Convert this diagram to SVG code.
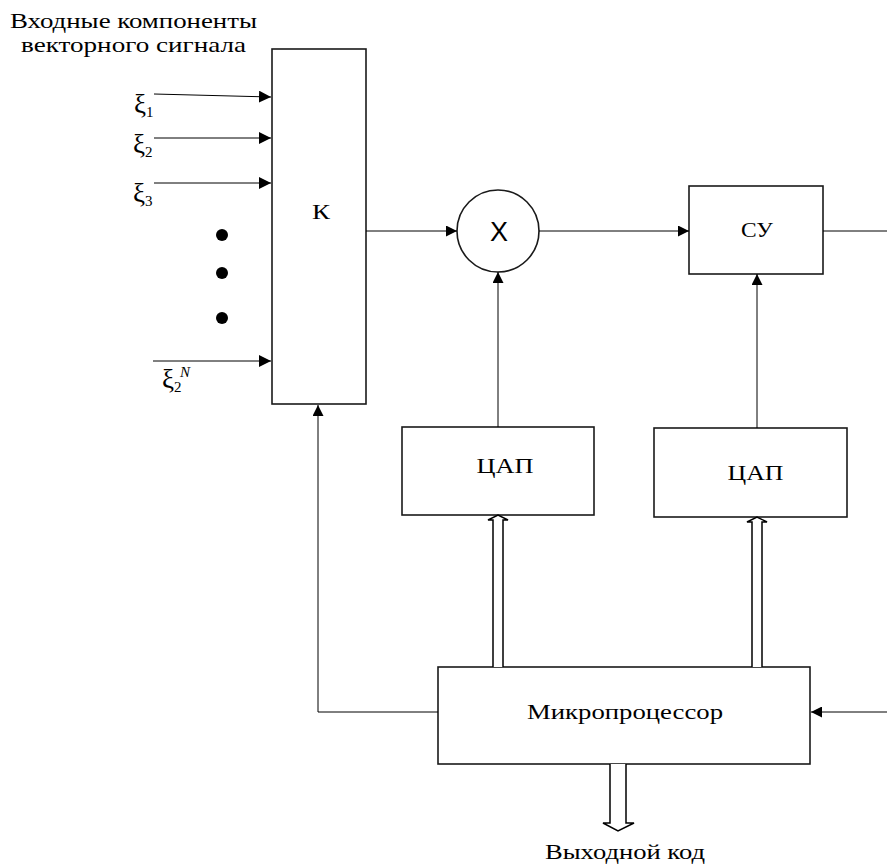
<svg xmlns="http://www.w3.org/2000/svg" width="887" height="864" viewBox="0 0 887 864">
<style>
.box{fill:#fff;stroke:#1a1a1a;stroke-width:1.6}
.ln{fill:none;stroke:#000;stroke-width:1}
.hollow{fill:#fff;stroke:#000;stroke-width:1.5;stroke-linejoin:miter}
.t{font-family:"Liberation Serif","Times New Roman",serif;font-size:21px;fill:#000}
.c{text-anchor:middle}
.g{font-family:"Liberation Serif","Times New Roman",serif;font-size:22px;fill:#000}
.x{font-family:"Liberation Serif","Times New Roman",serif;font-size:27px;fill:#000}
.sub{font-size:15px}
</style>
<defs>
<marker id="arr" markerUnits="userSpaceOnUse" markerWidth="12" markerHeight="12" viewBox="0 0 12 12" refX="12" refY="6" orient="auto">
<path d="M0,0 L12,6 L0,12 z" fill="#000"/>
</marker>
<marker id="arrS" markerUnits="userSpaceOnUse" markerWidth="11" markerHeight="11" viewBox="0 0 11 11" refX="11" refY="5.5" orient="auto">
<path d="M0,0 L11,5.5 L0,11 z" fill="#000"/>
</marker>
</defs>

<g id="title">
<text class="t c" x="133.5" y="28" textLength="247" lengthAdjust="spacingAndGlyphs">Входные компоненты</text>
<text class="t c" x="133.5" y="52" textLength="225" lengthAdjust="spacingAndGlyphs">векторного сигнала</text>
</g>

<g id="inputs-labels">
<text class="x" x="134" y="113">ξ<tspan class="sub" dy="4">1</tspan></text>
<text class="x" x="133" y="153">ξ<tspan class="sub" dy="4">2</tspan></text>
<text class="x" x="133" y="202">ξ<tspan class="sub" dy="4">3</tspan></text>
<text class="x" x="162" y="388">ξ<tspan class="sub" dy="4">2</tspan></text>
<text x="180" y="377" style="font-family:'Liberation Serif',serif;font-style:italic;font-size:15px">N</text>
</g>

<g id="dots">
<circle cx="222" cy="235" r="6" fill="#000"/>
<circle cx="222" cy="273" r="6" fill="#000"/>
<circle cx="222" cy="318" r="6" fill="#000"/>
</g>

<g id="K">
<rect class="box" x="272" y="49" width="94" height="355"/>
<text class="g c" x="321" y="219" textLength="18" lengthAdjust="spacingAndGlyphs">К</text>
</g>

<g id="mult">
<circle class="box" cx="498" cy="231" r="41"/>
<text x="499" y="241" text-anchor="middle" style="font-family:'Liberation Sans',Arial,sans-serif;font-size:27px">X</text>
</g>

<g id="SU">
<rect class="box" x="689" y="186" width="134" height="88"/>
<text class="g c" x="757" y="237" textLength="32" lengthAdjust="spacingAndGlyphs">СУ</text>
</g>

<g id="DAC1">
<rect class="box" x="402" y="427" width="192" height="88"/>
<text class="g c" x="505" y="473" textLength="57" lengthAdjust="spacingAndGlyphs">ЦАП</text>
</g>

<g id="DAC2">
<rect class="box" x="654" y="428" width="193" height="89"/>
<text class="g c" x="755.5" y="480" textLength="56" lengthAdjust="spacingAndGlyphs">ЦАП</text>
</g>

<g id="MP">
<rect class="box" x="438" y="667" width="372" height="97"/>
<text class="g c" x="625" y="719" textLength="196" lengthAdjust="spacingAndGlyphs">Микропроцессор</text>
</g>

<g id="output-label">
<text class="g c" x="625" y="859" textLength="160" lengthAdjust="spacingAndGlyphs">Выходной код</text>
</g>

<g id="connectors">
<line class="ln" x1="154" y1="94" x2="271" y2="97" marker-end="url(#arr)"/>
<line class="ln" x1="154" y1="138" x2="271" y2="138" marker-end="url(#arr)"/>
<line class="ln" x1="154" y1="183" x2="271" y2="183" marker-end="url(#arr)"/>
<line class="ln" x1="153" y1="361" x2="271" y2="361" marker-end="url(#arr)"/>
<line class="ln" x1="366" y1="231" x2="457" y2="231" marker-end="url(#arrS)"/>
<line class="ln" x1="539" y1="231" x2="689" y2="231" marker-end="url(#arrS)"/>
<line class="ln" x1="823" y1="231" x2="887" y2="231"/>
<line class="ln" x1="498" y1="427" x2="498" y2="272" marker-end="url(#arrS)"/>
<line class="ln" x1="757" y1="428" x2="757" y2="274" marker-end="url(#arrS)"/>
<polyline class="ln" points="438,712 318,712 318,405" marker-end="url(#arrS)"/>
<line class="ln" x1="887" y1="712" x2="811" y2="712" marker-end="url(#arrS)"/>
<path class="hollow" d="M493,667 L493,520 L488,520 L498,515 L508,520 L503,520 L503,667"/>
<path class="hollow" d="M752,667 L752,522 L747,522 L757,517 L767,522 L762,522 L762,667"/>
<path class="hollow" d="M610,764 L610,823 L603,823 L618,831 L634,823 L626,823 L626,764"/>
</g>
</svg>
